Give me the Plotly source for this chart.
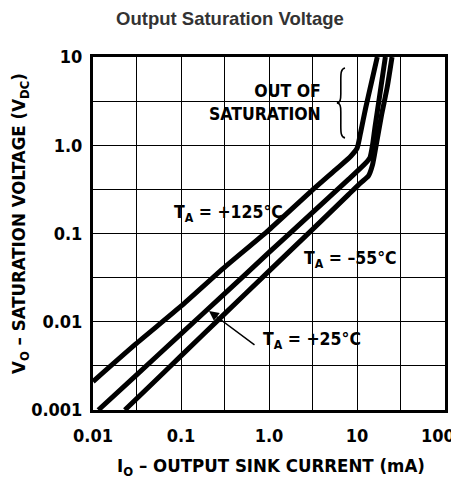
import numpy as np
import plotly.graph_objects as go

# ---- data (I in mA, V in volts) ----
i_125 = [0.01, 0.03, 0.1, 0.3, 1.0, 3.0, 6.0, 8.5, 10.0, 11.0, 12.5, 14.5, 17.0]
v_125 = [0.0021, 0.0055, 0.015, 0.04, 0.11, 0.3, 0.55, 0.75, 0.92, 1.4, 2.6, 5.0, 10.0]

i_25 = [0.0115, 0.03, 0.1, 0.3, 1.0, 3.0, 8.0, 12.0, 14.0, 15.0, 16.0, 18.0, 21.0]
v_25 = [0.001, 0.0024, 0.0073, 0.020, 0.061, 0.167, 0.41, 0.6, 0.72, 1.0, 1.6, 3.5, 10.0]

i_m55 = [0.023, 0.05, 0.1, 0.3, 1.0, 3.0, 8.0, 11.0, 13.5, 15.0, 16.5, 19.0, 22.0, 25.0]
v_m55 = [0.001, 0.0021, 0.0041, 0.0118, 0.0375, 0.107, 0.276, 0.375, 0.45, 0.6, 1.0, 2.2, 4.5, 10.0]

x_tickvals = [0.01, 0.0316, 0.1, 0.316, 1.0, 3.16, 10, 31.6, 100]
x_ticktext = ["0.01", "", "0.1", "", "1.0", "", "10", "", ""]
y_tickvals = [0.001, 0.00316, 0.01, 0.0316, 0.1, 0.316, 1.0, 3.16, 10]
y_ticktext = ["0.001", "", "0.01", "", "0.1", "", "1.0", "", "10"]

COND = "DejaVu Sans Condensed, Liberation Sans Narrow, Arial Narrow, sans-serif"
TICK = dict(family=COND, size=18, color="black", weight="bold")
LBL = dict(family=COND, size=17.5, color="black", weight="bold")
AXT = dict(family=COND, size=18.5, color="black", weight="bold")

fig = go.Figure()
for xs, ys in [(i_125, v_125), (i_25, v_25), (i_m55, v_m55)]:
    fig.add_trace(go.Scatter(x=xs, y=ys, mode="lines",
                             line=dict(color="black", width=5, shape="spline", smoothing=0.6),
                             showlegend=False, hoverinfo="skip"))

axis_common = dict(type="log", showgrid=True, gridcolor="black", gridwidth=1.3,
                   showline=True, linecolor="black", linewidth=3, mirror=True,
                   ticks="", zeroline=False, automargin=False, tickfont=TICK)

fig.update_xaxes(**axis_common, range=[-2, 2], tickmode="array",
                 tickvals=x_tickvals, ticktext=x_ticktext, ticklabelstandoff=7)
fig.update_yaxes(**axis_common, range=[-3, 1], tickmode="array",
                 tickvals=y_tickvals, ticktext=y_ticktext, ticklabelstandoff=4)

# page-pixel helpers (page is offset 8px by the body margin)
def px(x):
    return (x - 93) / 352.0

def py(y):
    return (410 - y) / 353.0

ann = [
    dict(text="100", x=px(438), y=py(435), font=TICK),
    dict(text="I<sub>O</sub> – OUTPUT SINK CURRENT (mA)", x=px(271), y=py(467), font=AXT),
    dict(text="V<sub>O</sub> – SATURATION VOLTAGE (V<sub>DC</sub>)", x=px(20), y=py(224),
         textangle=-90, font=AXT),
    dict(text="OUT OF<br>SATURATION", x=px(323), y=py(102), xanchor="right",
         align="right", font=LBL),
    dict(text="T<sub>A</sub> = +125°C", x=px(228), y=py(213), font=LBL),
    dict(text="T<sub>A</sub> = –55°C", x=px(350), y=py(259), font=LBL),
    dict(text="T<sub>A</sub> = +25°C", x=px(312), y=py(340), font=LBL),
]
for a in ann:
    a.update(xref="paper", yref="paper", showarrow=False)
    a.setdefault("xanchor", "center")
    a.setdefault("yanchor", "middle")
ann.append(dict(x=px(209), y=py(311), xref="paper", yref="paper", ax=47, ay=35,
                text="", showarrow=True, arrowhead=2, arrowsize=1.3,
                arrowwidth=1.5, arrowcolor="black"))
fig.update_layout(annotations=ann)

# brace
fig.add_shape(type="path", xref="paper", yref="paper",
              path="M 0.716 0.969 C 0.703 0.967 0.704 0.95 0.704 0.93 L 0.704 0.895 "
                   "C 0.704 0.878 0.702 0.871 0.693 0.870 "
                   "C 0.702 0.869 0.704 0.862 0.704 0.845 L 0.704 0.81 "
                   "C 0.704 0.79 0.703 0.773 0.716 0.771",
              line=dict(color="black", width=1.6))

fig.update_layout(
    width=451, height=480,
    margin=dict(l=85, r=14, t=49, b=78),
    plot_bgcolor="white", paper_bgcolor="white",
    title=dict(text="Output Saturation Voltage", x=px(230), xref="paper",
               xanchor="center", y=1 - 11 / 480, yanchor="middle",
               font=dict(family="Liberation Sans, Arial, sans-serif", size=18.5,
                         color="#333333", weight="bold")),
)

fig.write_html("out.html")
